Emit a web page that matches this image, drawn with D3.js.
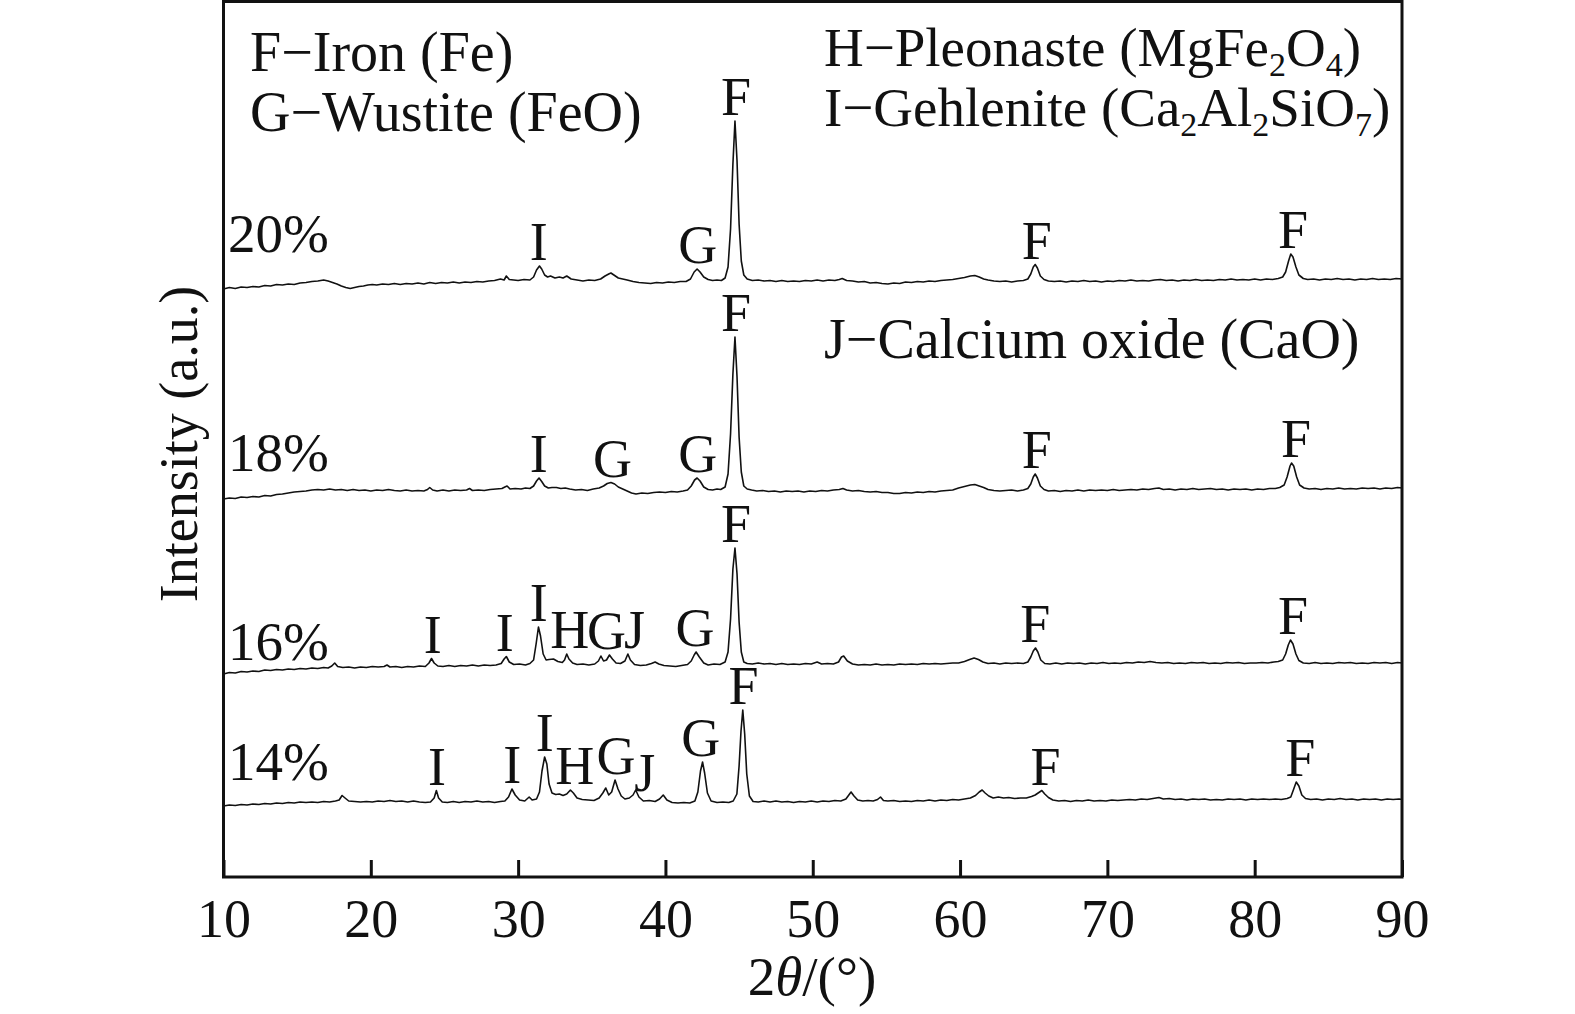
<!DOCTYPE html>
<html><head><meta charset="utf-8">
<script src="https://cdn.jsdelivr.net/npm/d3@7"></script>
<style>
html,body{margin:0;padding:0;background:#fff;}
svg{display:block;}
text{font-family:"Liberation Serif","Times New Roman",serif;fill:#111;}
</style></head>
<body>
<svg id="chart" width="1575" height="1014"></svg>
<script>
// ---------- data ----------
const seriesNames = ["14%", "16%", "18%", "20%"];
const seriesOffsets = [70, 202, 377, 587];
const xTicks = [10, 20, 30, 40, 50, 60, 70, 80, 90];

const s14 = [[10,0],[10.4,1],[10.8,0.5],[11.2,1.5],[11.6,1],[12,2],[12.4,1.5],[12.8,2.5],[13.2,2],[13.6,3],[14,2.5],[14.4,3.5],[14.8,3],[15.2,4],[15.6,3.5],[16,4],[16.4,3.5],[16.8,4.5],[17.2,4],[17.6,5],[17.85,6],[18.05,10.5],[18.25,8],[18.5,5],[18.9,4.5],[19.3,4],[19.7,4.5],[20.1,4],[20.5,5],[20.9,4.5],[21.3,5.5],[21.7,4.5],[22.1,5],[22.5,4],[22.9,5],[23.3,4],[23.7,3.5],[24.05,4],[24.3,8],[24.45,15.5],[24.6,8],[24.85,4],[25.2,3.5],[25.6,4.5],[26,3.5],[26.4,4.5],[26.8,4],[27.2,5],[27.6,4],[28,4.5],[28.4,3.5],[28.8,4.5],[29.1,5],[29.35,9],[29.58,17],[29.8,11],[30.1,6],[30.45,5],[30.75,9],[30.95,6],[31.25,7],[31.45,14],[31.62,35],[31.8,49],[31.95,42],[32.1,22],[32.3,13],[32.55,11.5],[32.8,12],[33.05,10.5],[33.3,12],[33.55,16],[33.75,13],[34,8],[34.35,6.5],[34.75,6],[35.15,5.5],[35.5,8],[35.75,13],[35.95,18],[36.15,11],[36.35,14],[36.58,26],[36.78,17],[37.0,10],[37.25,7],[37.55,8],[37.8,11],[37.98,16],[38.2,9],[38.5,5],[38.9,5.5],[39.3,4.5],[39.6,7],[39.85,11],[40.1,6],[40.45,3.5],[40.85,3],[41.25,3.5],[41.65,3],[42.0,5],[42.2,14],[42.38,35],[42.52,44],[42.66,33],[42.85,13],[43.1,5],[43.5,3.5],[43.9,4],[44.3,3.5],[44.6,5],[44.85,12],[45.0,40],[45.13,75],[45.25,96],[45.38,72],[45.52,32],[45.7,10],[45.95,4.5],[46.3,4],[46.7,5],[47.1,4],[47.5,5],[47.9,4],[48.3,4.5],[48.7,3.5],[49.1,4.5],[49.5,4],[49.9,5],[50.3,4],[50.7,5],[51.1,4.5],[51.5,5.5],[51.9,5],[52.25,7],[52.45,11],[52.6,14],[52.8,10],[53.05,6],[53.4,5],[53.75,5.5],[54.1,5],[54.4,6.5],[54.6,9],[54.8,5.5],[55.1,5],[55.5,5.5],[55.9,4.5],[56.3,5],[56.7,4.5],[57.1,5.5],[57.5,5],[57.9,6],[58.3,5],[58.7,6],[59.1,5.5],[59.5,6.5],[59.9,6],[60.3,7],[60.7,8],[61.05,10.5],[61.3,14],[61.5,16],[61.7,13],[61.95,10],[62.25,8],[62.6,9],[62.95,8],[63.3,8.5],[63.7,7.5],[64.1,8],[64.5,8],[64.85,9.5],[65.1,11],[65.35,13.5],[65.55,15.5],[65.75,12],[66,8.5],[66.3,6],[66.7,5],[67.1,5.5],[67.5,4.5],[67.9,5.5],[68.3,5],[68.7,6],[69.1,5],[69.5,5.5],[69.9,5],[70.3,6],[70.7,5.5],[71.1,6],[71.5,6.5],[71.9,6],[72.3,7],[72.7,6.5],[73.1,7.5],[73.5,8.5],[73.8,7],[74.2,7.5],[74.6,6.5],[75,7],[75.4,6],[75.8,7],[76.2,6.5],[76.6,7],[77,6],[77.4,6.5],[77.8,6],[78.2,7],[78.6,6.5],[79,7],[79.4,6],[79.8,7],[80.2,6.5],[80.6,7],[81,6.5],[81.4,7],[81.8,6.5],[82.2,7.5],[82.45,9],[82.65,17],[82.82,24],[83.0,20],[83.2,11],[83.45,7.5],[83.8,6.5],[84.2,7],[84.6,6],[85,7],[85.4,6.5],[85.8,7.5],[86.2,6.5],[86.6,7],[87,6],[87.4,7],[87.8,6.5],[88.2,7],[88.6,6],[89,7],[89.4,6.5],[89.8,7],[90,6.5]];

const s16 = [[10,0],[10.4,1.5],[10.8,1],[11.2,2.5],[11.6,2],[12,3],[12.4,2.5],[12.8,4],[13.2,3.5],[13.6,4.5],[14,4],[14.4,5],[14.8,4.5],[15.2,5.5],[15.6,5],[16,6],[16.4,5.5],[16.8,6.5],[17.1,6],[17.35,8],[17.55,11],[17.75,7.5],[18.1,6.5],[18.5,7],[18.9,6],[19.3,7],[19.7,6.5],[20.1,7.5],[20.5,7],[20.9,7.5],[21.1,9],[21.3,7],[21.7,7.5],[22.1,6.5],[22.5,7.5],[22.9,7],[23.3,8],[23.7,7.5],[23.95,11],[24.12,15.5],[24.3,11],[24.55,8],[24.9,7.5],[25.3,8.5],[25.7,7.5],[26.1,8.5],[26.5,8],[26.9,9],[27.3,8],[27.7,9],[28.1,8.5],[28.5,9],[28.85,10.5],[29.05,15],[29.2,17.5],[29.4,12],[29.7,9.5],[30.1,10],[30.5,9],[30.8,10.5],[31.05,14],[31.22,30],[31.38,47],[31.52,38],[31.7,20],[31.9,14],[32.1,14.5],[32.4,15],[32.7,12.5],[33,11.5],[33.15,14],[33.3,20],[33.45,15],[33.7,11],[34,9.5],[34.4,10],[34.8,9],[35.2,10],[35.45,13],[35.62,18],[35.8,13],[36,14],[36.2,19],[36.4,15],[36.65,11],[36.95,10.5],[37.25,13],[37.45,20],[37.62,14],[37.9,9.5],[38.3,8.5],[38.7,9],[39.05,10.5],[39.3,12],[39.55,10],[39.9,8.5],[40.3,8],[40.7,7.5],[41.1,8.5],[41.5,9.5],[41.75,13],[41.95,19],[42.08,22],[42.3,17],[42.6,11],[42.9,9],[43.3,10],[43.7,9.5],[44.05,12],[44.25,22],[44.42,55],[44.58,105],[44.72,126],[44.86,100],[45.0,52],[45.15,22],[45.32,12],[45.55,10.5],[45.9,10],[46.3,11],[46.7,10],[47.1,10.5],[47.5,9.5],[47.9,10.5],[48.3,9.5],[48.7,10],[49.1,9.5],[49.5,10.5],[49.9,10],[50.3,12],[50.6,10],[51,10.5],[51.4,10],[51.75,12],[51.95,17],[52.1,18],[52.35,13],[52.7,10],[53.1,9],[53.5,9.5],[53.9,9],[54.3,10],[54.7,9],[55.1,9.5],[55.5,9],[55.9,10],[56.3,9.5],[56.7,10],[57.1,9.5],[57.5,10.5],[57.9,10],[58.3,10.5],[58.7,10],[59.1,10.5],[59.5,11],[59.9,11],[60.3,12.5],[60.65,14.5],[60.95,16],[61.25,14.5],[61.55,12],[61.9,10.5],[62.3,11],[62.7,10],[63.1,11],[63.5,10.5],[63.9,11],[64.3,10.5],[64.6,12],[64.8,17],[64.97,23],[65.12,26],[65.28,22],[65.48,14],[65.75,10.5],[66.1,10],[66.5,11],[66.9,10],[67.3,11],[67.7,10.5],[68.1,11],[68.5,10],[68.9,11],[69.3,10.5],[69.7,11.5],[70.1,10.5],[70.5,11],[70.9,10.5],[71.3,11.5],[71.7,11],[72.1,12],[72.5,11.5],[72.9,12.5],[73.3,11.5],[73.7,11],[74.1,11.5],[74.5,10.5],[74.9,11],[75.3,10.5],[75.7,11.5],[76.1,11],[76.5,11.5],[76.9,10.5],[77.3,11],[77.7,10.5],[78.1,11.5],[78.5,11],[78.9,11.5],[79.3,10.5],[79.7,11],[80.1,11],[80.5,11.5],[80.9,11],[81.3,12],[81.6,12.5],[81.9,14],[82.1,20],[82.28,29],[82.43,34],[82.6,30],[82.8,20],[83.0,13.5],[83.3,11],[83.7,10.5],[84.1,11.5],[84.5,10.5],[84.9,11],[85.3,10.5],[85.7,11.5],[86.1,11],[86.5,11.5],[86.9,10.5],[87.3,11],[87.7,10.5],[88.1,11.5],[88.5,11],[88.9,11.5],[89.3,10.5],[89.7,11.5],[90,11]];

const s18 = [[10,0],[10.4,1],[10.8,0.5],[11.2,2],[11.6,1.5],[12,2.5],[12.4,2],[12.8,3.5],[13.2,3],[13.6,4.5],[14,5],[14.4,6],[14.8,7],[15.2,7.5],[15.6,8],[16,9],[16.4,9.5],[16.8,9],[17.2,10],[17.6,9],[18,9.5],[18.4,8.5],[18.8,9.5],[19.2,8.5],[19.6,9],[20,8],[20.4,9],[20.8,8.5],[21.2,9.5],[21.6,8.5],[22,8],[22.4,9],[22.8,8],[23.2,8.5],[23.6,8],[23.85,9.5],[24.0,11.5],[24.2,9],[24.5,8],[24.9,9],[25.3,8],[25.7,9],[26.1,8.5],[26.5,9],[26.7,10.5],[26.9,8.5],[27.3,9],[27.7,8.5],[28.1,9.5],[28.5,10],[28.9,10.5],[29.1,12],[29.25,13],[29.45,10],[29.8,10.5],[30.2,10],[30.5,11],[30.8,10.5],[31.05,13],[31.25,18],[31.42,21],[31.6,17.5],[31.8,13],[32.05,11],[32.3,11.5],[32.6,11.5],[32.9,10.5],[33.2,11],[33.5,10],[33.9,9],[34.3,9.5],[34.7,8.5],[35.1,10],[35.5,11],[35.8,13],[36.05,15.5],[36.3,16.5],[36.55,15],[36.8,12],[37.1,10],[37.4,8],[37.7,6],[38.0,5],[38.4,6],[38.8,5.5],[39.2,6.5],[39.6,7],[40,6.5],[40.4,7.5],[40.8,7],[41.2,8],[41.5,9],[41.75,13],[41.98,19],[42.15,21],[42.35,18],[42.6,12],[42.9,9.5],[43.2,9],[43.5,10],[43.75,9.5],[44.05,12],[44.25,25],[44.42,65],[44.58,125],[44.72,162],[44.86,122],[45.0,62],[45.15,27],[45.32,13],[45.55,10],[45.85,9],[46.2,8],[46.6,8.5],[47,7.5],[47.4,8],[47.8,7],[48.2,8],[48.6,7.5],[49,8],[49.4,7],[49.8,8],[50.2,7.5],[50.6,8.5],[51,8],[51.4,9],[51.8,9.5],[52.05,10.5],[52.3,9],[52.7,8],[53.1,8.5],[53.5,7.5],[53.9,7],[54.3,7.5],[54.7,6.5],[55.1,6.5],[55.5,5.5],[55.9,5.5],[56.3,6.5],[56.7,6],[57.1,7],[57.5,6.5],[57.9,7.5],[58.3,7],[58.7,8],[59.1,8.5],[59.5,9],[59.9,11],[60.3,12.5],[60.7,14],[61,14.5],[61.3,13],[61.6,11.5],[61.9,9.5],[62.3,8.5],[62.7,8],[63.1,8.5],[63.5,9],[63.9,8],[64.3,9],[64.6,10.5],[64.8,15],[64.97,22],[65.1,25],[65.25,21],[65.45,13],[65.7,9.5],[66,8],[66.4,8.5],[66.8,7.5],[67.2,8.5],[67.6,8],[68,9],[68.4,8],[68.8,9],[69.2,8.5],[69.6,9],[70,8.5],[70.4,9.5],[70.8,8.5],[71.2,9],[71.6,9.5],[72,9],[72.4,10],[72.8,9.5],[73.2,10.5],[73.5,11],[73.8,9.5],[74.2,10],[74.6,9],[75,10],[75.4,9.5],[75.8,10.5],[76.2,9.5],[76.6,10],[77,10.5],[77.4,9.5],[77.8,10],[78.2,9],[78.6,10],[79,9.5],[79.4,10],[79.8,9],[80.2,10],[80.6,9.5],[81,10.5],[81.4,10.5],[81.7,11.5],[82,14],[82.2,22],[82.4,33],[82.5,36],[82.65,33],[82.85,22],[83.05,14],[83.35,11],[83.7,10],[84.1,10.5],[84.5,9.5],[84.9,10.5],[85.3,10],[85.7,11],[86.1,10],[86.5,10.5],[86.9,10],[87.3,11],[87.7,10.5],[88.1,11],[88.5,10],[88.9,11],[89.3,10.5],[89.7,11.5],[90,11]];

const s20 = [[10,0],[10.4,1.5],[10.8,0.5],[11.2,2],[11.6,1.5],[12,2.5],[12.4,2],[12.8,3.5],[13.2,3],[13.6,4.5],[14,4],[14.4,5],[14.8,4.5],[15.2,6],[15.6,6.5],[16,7.5],[16.4,8],[16.8,9],[17.1,8],[17.4,6.5],[17.7,5],[18,3],[18.3,1.5],[18.6,0.5],[18.9,1.5],[19.2,2.5],[19.5,3],[19.8,4],[20.1,4.5],[20.4,4],[20.8,5],[21.2,4.5],[21.6,5.5],[22,4.5],[22.4,5.5],[22.8,5],[23.2,6],[23.6,5],[24,6.5],[24.4,5.5],[24.8,6.5],[25.2,6],[25.6,7],[26,6],[26.4,7],[26.8,6.5],[27.2,7.5],[27.6,7],[28,8],[28.4,8.5],[28.8,10],[29.05,9],[29.2,13],[29.4,9.5],[29.7,9],[30,8.5],[30.4,9.5],[30.8,9],[31.05,12],[31.25,19],[31.45,23],[31.6,20],[31.8,14],[32,12],[32.2,13],[32.5,11],[32.8,12],[33.05,11],[33.3,13],[33.6,10],[34,9],[34.4,8],[34.8,9],[35.2,8.5],[35.6,10],[35.9,13],[36.15,15],[36.3,16],[36.5,14],[36.8,11],[37.1,10],[37.4,9],[37.8,7.5],[38.2,6.5],[38.6,6],[39,5.5],[39.4,6.5],[39.8,6],[40.2,7],[40.6,6.5],[41,7.5],[41.4,7.5],[41.7,10],[41.95,17],[42.15,20],[42.35,17],[42.6,12],[42.9,9.5],[43.2,8.5],[43.5,9],[43.8,8.5],[44.05,11],[44.25,22],[44.42,60],[44.58,125],[44.72,168],[44.86,128],[45.0,65],[45.15,28],[45.32,14],[45.55,10],[45.9,8.5],[46.3,9],[46.7,8],[47.1,8.5],[47.5,7.5],[47.9,8.5],[48.3,7.5],[48.7,8],[49.1,7.5],[49.5,8.5],[49.9,8],[50.3,9],[50.7,8],[51.1,9],[51.5,8.5],[51.8,9.5],[52,10.5],[52.3,8.5],[52.7,8],[53.1,7],[53.5,7.5],[53.9,6],[54.3,6.5],[54.7,5.5],[55.1,5],[55.5,6],[55.9,5.5],[56.3,7],[56.7,6.5],[57.1,7.5],[57.5,7],[57.9,8],[58.3,7.5],[58.7,8.5],[59.1,9],[59.5,9.5],[59.9,10.5],[60.3,11.5],[60.7,13],[61,13.5],[61.3,12],[61.6,10],[61.9,9],[62.3,8],[62.7,7.5],[63.1,8],[63.5,7],[63.9,8],[64.3,8.5],[64.6,10],[64.8,15],[64.97,22],[65.1,24.5],[65.25,21],[65.45,13],[65.7,9.5],[66,8],[66.4,7.5],[66.8,8],[67.2,7],[67.6,8],[68,7.5],[68.4,8.5],[68.8,7.5],[69.2,8],[69.6,7],[70,8],[70.4,7.5],[70.8,8.5],[71.2,8],[71.6,9],[72,8],[72.4,8.5],[72.8,8],[73.2,9],[73.6,9.5],[74,8.5],[74.4,9],[74.8,8],[75.2,9],[75.6,8.5],[76,9.5],[76.4,8.5],[76.8,9],[77.2,8.5],[77.6,9.5],[78,9],[78.4,10],[78.8,9],[79.2,9.5],[79.6,9],[80,10],[80.4,9],[80.8,10],[81.2,9.5],[81.6,10.5],[81.9,12],[82.1,17],[82.3,28],[82.45,35],[82.6,32],[82.8,22],[83,14],[83.3,10.5],[83.6,9.5],[84,10],[84.4,9],[84.8,10],[85.2,9.5],[85.6,10.5],[86,9.5],[86.4,10],[86.8,9],[87.2,10],[87.6,9.5],[88,10.5],[88.4,9.5],[88.8,10],[89.2,9.5],[89.6,10.5],[90,10]];

const labels14 = [[24.5,"I"],[29.6,"I"],[31.8,"I"],[33.85,"H"],[36.65,"G"],[38.6,"J"],[42.4,"G"],[45.3,"F"],[65.8,"F"],[83.1,"F"]];
const labels16 = [[24.2,"I"],[29.1,"I"],[31.4,"I"],[33.5,"H"],[36.0,"G"],[37.9,"J"],[42.0,"G"],[44.8,"F"],[65.1,"F"],[82.6,"F"]];
const labels18 = [[31.4,"I"],[36.4,"G"],[42.2,"G"],[44.8,"F"],[65.2,"F"],[82.8,"F"]];
const labels20 = [[31.4,"I"],[42.2,"G"],[44.8,"F"],[65.2,"F"],[82.6,"F"]];

const legendLeft = ["F−Iron (Fe)", "G−Wustite (FeO)"];
const legendRight = [
  [["H−Pleonaste (MgFe",0],["2",1],["O",0],["4",1],[")",0]],
  [["I−Gehlenite (Ca",0],["2",1],["Al",0],["2",1],["SiO",0],["7",1],[")",0]]
];
const legendExtra = "J−Calcium oxide (CaO)";

// ---------- layout ----------
const series = [s14, s16, s18, s20];
const labelSets = [labels14, labels16, labels18, labels20];
const pctY = [780, 660, 471, 252];

const svg = d3.select("#chart");
const x = d3.scaleLinear().domain([10, 90]).range([223.5, 1402]);
const y = d3.scaleLinear().domain([0, 874]).range([876, 2]);

// traces
const line = d3.line().x(d => x(d[0])).y(d => y(d[1]));
series.forEach((s, i) => {
  const off = seriesOffsets[i];
  svg.append("path")
    .attr("d", line(s.map(p => [p[0], p[1] + off])))
    .attr("fill", "none")
    .attr("stroke", "#111")
    .attr("stroke-width", 1.6)
    .attr("stroke-linejoin", "round");
});

// peak labels
labelSets.forEach((set, i) => {
  const s = series[i], off = seriesOffsets[i];
  set.forEach(([t, txt]) => {
    const near = s.filter(p => Math.abs(p[0] - t) <= 0.6);
    const top = d3.max(near, p => p[1]);
    svg.append("text")
      .attr("x", x(t)).attr("y", y(top + off) - 6)
      .attr("text-anchor", "middle")
      .attr("font-size", 54)
      .text(txt);
  });
});

// percent labels
seriesNames.forEach((n, i) => {
  svg.append("text").attr("x", 228).attr("y", pctY[i])
    .attr("font-size", 55).text(n);
});

// frame
svg.append("rect").attr("x", 223.5).attr("y", 1.5)
  .attr("width", 1402 - 223.5).attr("height", 877 - 1.5)
  .attr("fill", "none").attr("stroke", "#111").attr("stroke-width", 3);

// x axis
const ax = svg.append("g").attr("transform", "translate(0,877)")
  .call(d3.axisBottom(x).tickValues(xTicks).tickSize(-17).tickFormat(d3.format("d")));
ax.select(".domain").remove();
ax.selectAll(".tick line").attr("stroke", "#111").attr("stroke-width", 3);
ax.selectAll(".tick text").attr("y", 60).attr("dy", 0)
  .attr("font-size", 54).attr("fill", "#111")
  .style("font-family", '"Liberation Serif","Times New Roman",serif');

// axis titles
const xt = svg.append("text").attr("x", 812).attr("y", 995)
  .attr("text-anchor", "middle").attr("font-size", 55);
xt.append("tspan").text("2");
xt.append("tspan").attr("font-style", "italic").text("θ");
xt.append("tspan").text("/(°)");

svg.append("text")
  .attr("transform", "translate(197,444) rotate(-90)")
  .attr("text-anchor", "middle").attr("font-size", 54)
  .text("Intensity (a.u.)");

// legend
legendLeft.forEach((l, i) => {
  svg.append("text").attr("x", 250).attr("y", 71 + i * 60)
    .attr("font-size", 56).text(l);
});
legendRight.forEach((parts, i) => {
  const t = svg.append("text").attr("x", 824).attr("y", 66 + i * 60).attr("font-size", 55);
  parts.forEach(([txt, isSub]) => {
    const ts = t.append("tspan").text(txt);
    if (isSub) ts.attr("font-size", 34).attr("baseline-shift", "-10px");
  });
});
svg.append("text").attr("x", 824).attr("y", 358)
  .attr("font-size", 56).text(legendExtra);
</script>
</body></html>
